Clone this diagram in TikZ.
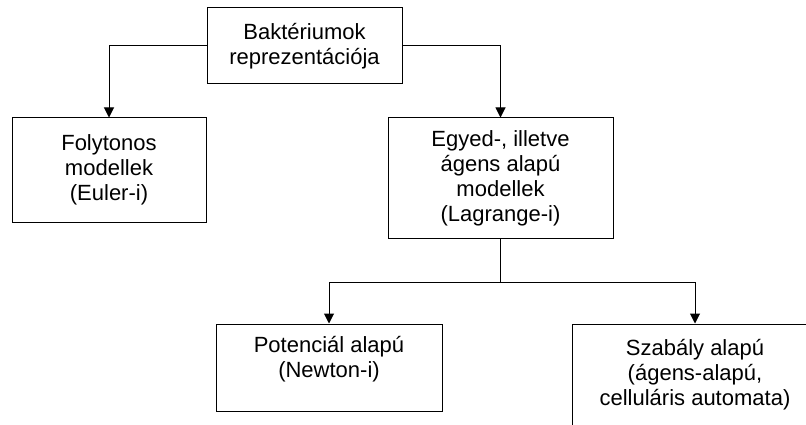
\documentclass[tikz,border=0pt]{standalone}
\usepackage{fontspec}
\setmainfont{Liberation Sans}
\usepackage{tikz}
\usetikzlibrary{arrows.meta, positioning}

\begin{document}
\begin{tikzpicture}[
                x=1pt, y=-1pt,
                every node/.style={draw, rectangle, align=center, line width=1pt, font=\fontsize{22}{25}\selectfont},
                arrow/.style={-{Triangle[width=10pt,length=10pt]}, line width=1pt}]
            % Keret
            \path[use as bounding box, clip] (0,0) rectangle (806,425);

            % Dobozok
            \node[minimum width=195pt, minimum height=76pt] (bakt) at (304.5,46) {Baktériumok\\reprezentációja};
            \node[minimum width=194pt, minimum height=104pt] (folyt) at (109,170) {Folytonos\\modellek\\(Euler-i)};
            \node[minimum width=225pt, minimum height=120pt] (egyed) at (500.5,178) {Egyed-, illetve\\ágens alapú\\modellek\\(Lagrange-i)};
            \node[minimum width=226pt, minimum height=87pt, text depth=21pt] (potenc) at (329,367.5) {Potenciál alapú\\(Newton-i)};
            \node[minimum width=246pt, minimum height=120pt, text depth=23pt] (szab) at (695,384) {Szabály alapú\\(ágens-alapú,\\celluláris automata)};
            \coordinate (elag) at ([yshift=-44pt]egyed.south);

            % Nyilak
            \draw[arrow] (bakt.west) -| (folyt.north);
            \draw[arrow] (bakt.east) -| (egyed.north);
            \draw[line width=1pt] (egyed.south) -- (elag);
            \draw[arrow] (elag) -| (potenc.north);
            \draw[arrow] (elag) -| (szab.north);

\end{tikzpicture}
\end{document}
